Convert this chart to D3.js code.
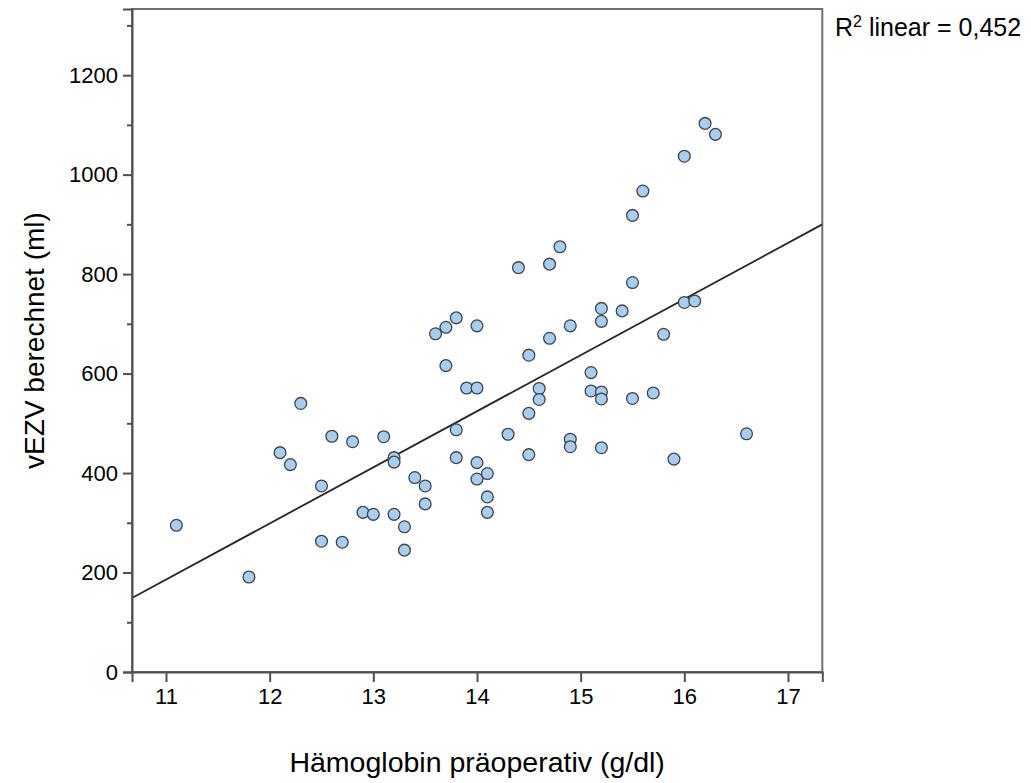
<!DOCTYPE html>
<html>
<head>
<meta charset="utf-8">
<script src="https://cdn.jsdelivr.net/npm/d3@7"></script>
<style>
  html, body { margin: 0; padding: 0; background: #fff; }
  svg { display: block; font-family: "Liberation Sans", Arial, sans-serif; }
</style>
</head>
<body>
<svg id="chart" width="1031" height="783"></svg>
<script>
// Hämoglobin präoperativ (g/dl) per patient
const hb = [
  11.1, 11.8, 12.1, 12.2, 12.3, 12.5, 12.5, 12.6, 12.7, 12.8,
  12.9, 13.0, 13.1, 13.2, 13.2, 13.2, 13.3, 13.3, 13.4, 13.5,
  13.5, 13.6, 13.7, 13.7, 13.8, 13.8, 13.8, 13.9, 14.0, 14.0,
  14.0, 14.0, 14.1, 14.1, 14.1, 14.3, 14.4, 14.5, 14.5, 14.5,
  14.6, 14.6, 14.7, 14.7, 14.8, 14.9, 14.9, 14.9, 15.1, 15.1,
  15.2, 15.2, 15.2, 15.2, 15.2, 15.4, 15.5, 15.5, 15.5, 15.6,
  15.7, 15.8, 15.9, 16.0, 16.0, 16.1, 16.2, 16.3, 16.6
];
// vEZV berechnet (ml), same order
const vezv = [
  295, 191, 441, 417, 540, 374, 263, 474, 261, 463,
  321, 317, 473, 431, 422, 317, 292, 245, 391, 374,
  338, 680, 693, 616, 712, 487, 431, 571, 571, 696,
  421, 388, 399, 352, 321, 478, 813, 637, 520, 437,
  570, 548, 820, 671, 855, 696, 468, 453, 602, 565,
  731, 705, 563, 549, 451, 726, 918, 783, 550, 967,
  561, 679, 428, 1037, 743, 746, 1103, 1081, 479
];
const xTicks = [11, 12, 13, 14, 15, 16, 17];
const yTicks = [0, 200, 400, 600, 800, 1000, 1200];
const yMinorTicks = [100, 300, 500, 700, 900, 1100, 1300];
const xDomain = [10.672, 17.331];
const yDomain = [0, 1333];
const r2Label = "0,452";

const svg = d3.select("#chart");
const plotLeft = 132, plotRight = 822.3, plotTop = 9, plotBottom = 672;

const x = d3.scaleLinear().domain(xDomain).range([plotLeft, plotRight]);
const y = d3.scaleLinear().domain(yDomain).range([plotBottom, plotTop]);

// plot frame
svg.append("rect")
  .attr("x", plotLeft).attr("y", plotTop)
  .attr("width", plotRight - plotLeft).attr("height", plotBottom - plotTop)
  .attr("fill", "none").attr("stroke", "#707070").attr("stroke-width", 2);

// least-squares fit line
const n = hb.length;
const mx = d3.mean(hb), my = d3.mean(vezv);
let sxy = 0, sxx = 0;
for (let i = 0; i < n; i++) { sxy += (hb[i] - mx) * (vezv[i] - my); sxx += (hb[i] - mx) ** 2; }
const slope = sxy / sxx, intercept = my - slope * mx;

svg.append("clipPath").attr("id", "plotclip")
  .append("rect").attr("x", plotLeft).attr("y", plotTop)
  .attr("width", plotRight - plotLeft).attr("height", plotBottom - plotTop);

svg.append("line")
  .attr("clip-path", "url(#plotclip)")
  .attr("x1", x(xDomain[0])).attr("y1", y(intercept + slope * xDomain[0]))
  .attr("x2", x(xDomain[1])).attr("y2", y(intercept + slope * xDomain[1]))
  .attr("stroke", "#262626").attr("stroke-width", 1.8);

// points
svg.append("g").selectAll("circle")
  .data(hb.map((h, i) => [h, vezv[i]]))
  .join("circle")
  .attr("cx", d => x(d[0])).attr("cy", d => y(d[1]))
  .attr("r", 5.9)
  .attr("fill", "#a8cdee")
  .attr("stroke", "#3f4548").attr("stroke-width", 1.3);

// y axis
const yAxis = svg.append("g").attr("transform", `translate(${plotLeft},0)`)
  .call(d3.axisLeft(y).tickValues(yTicks).tickSize(9).tickPadding(5).tickFormat(d3.format("d")));
yAxis.select(".domain").attr("stroke", "#505050").attr("stroke-width", 2);
yAxis.selectAll(".tick line").attr("stroke", "#505050").attr("stroke-width", 2);
yAxis.selectAll(".tick text").attr("font-size", 22).attr("fill", "#000")
  .attr("font-family", "Liberation Sans, Arial, sans-serif");
svg.append("g").attr("transform", `translate(${plotLeft},0)`)
  .call(d3.axisLeft(y).tickValues(yMinorTicks).tickSize(5).tickFormat(""))
  .call(g => g.select(".domain").remove())
  .selectAll(".tick line").attr("stroke", "#505050").attr("stroke-width", 2);

// x axis
const xAxis = svg.append("g").attr("transform", `translate(0,${plotBottom})`)
  .call(d3.axisBottom(x).tickValues(xTicks).tickSize(10).tickPadding(6).tickFormat(d3.format("d")));
xAxis.select(".domain").attr("stroke", "#505050").attr("stroke-width", 2);
xAxis.selectAll(".tick line").attr("stroke", "#505050").attr("stroke-width", 2);
xAxis.selectAll(".tick text").attr("font-size", 22).attr("fill", "#000")
  .attr("font-family", "Liberation Sans, Arial, sans-serif");

// axis titles
svg.append("text")
  .attr("x", (plotLeft + plotRight) / 2).attr("y", 772)
  .attr("text-anchor", "middle").attr("font-size", 28.5).attr("fill", "#000")
  .text("Hämoglobin präoperativ (g/dl)");
svg.append("text")
  .attr("transform", `translate(44,${(plotTop + plotBottom) / 2}) rotate(-90)`)
  .attr("text-anchor", "middle").attr("font-size", 28).attr("fill", "#000")
  .text("vEZV berechnet (ml)");

// fit statistic
const r2 = svg.append("text").attr("x", 835).attr("y", 36)
  .attr("font-size", 25).attr("fill", "#000");
r2.append("tspan").text("R");
r2.append("tspan").attr("font-size", 16).attr("dy", -9).text("2");
r2.append("tspan").attr("dy", 9).text(" linear = " + r2Label);
</script>
</body>
</html>
